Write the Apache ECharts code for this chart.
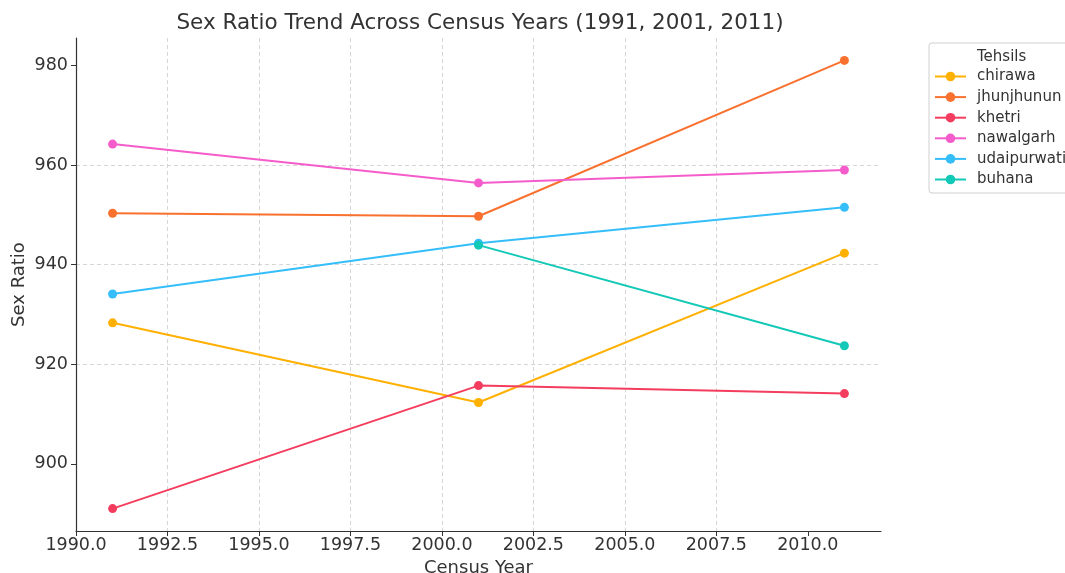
<!DOCTYPE html>
<html>
<head>
<meta charset="utf-8">
<script src="https://cdn.jsdelivr.net/npm/echarts@6/dist/echarts.min.js"></script>
<style>html,body{margin:0;padding:0;background:#fff;}#c{width:1065px;height:573px;}</style>
</head>
<body>
<div id="c"></div>
<script>
const years = [1991, 2001, 2011];
const names = ['chirawa', 'jhunjhunun', 'khetri', 'nawalgarh', 'udaipurwati', 'buhana'];
const chirawa = [928.3, 912.3, 942.3];
const jhunjhunun = [950.3, 949.7, 981.0];
const khetri = [891.0, 915.7, 914.1];
const nawalgarh = [964.2, 956.4, 959.0];
const udaipurwati = [934.1, 944.3, 951.5];
const buhana = [null, 943.9, 923.7];
const colors = ['#ffb000', '#f9712f', '#f43d5e', '#f55ccb', '#35bef9', '#12c8b6'];
const yTicks = [900, 920, 940, 960, 980];
const xTicks = [1990, 1992.5, 1995, 1997.5, 2000, 2002.5, 2005, 2007.5, 2010];

const values = [chirawa, jhunjhunun, khetri, nawalgarh, udaipurwati, buhana];
const F = 'DejaVu Sans';
const series = names.map((n, i) => ({
  name: n,
  type: 'line',
  data: years.map((y, j) => values[i][j] == null ? null : [y, values[i][j]]).filter(d => d),
  symbol: 'circle',
  symbolSize: 9,
  lineStyle: {width: 2, color: colors[i]},
  itemStyle: {color: colors[i]},
  animation: false
}));

const chart = echarts.init(document.getElementById('c'), null, {renderer: 'canvas'});
chart.setOption({
  animation: false,
  backgroundColor: '#fff',
  title: {
    text: 'Sex Ratio Trend Across Census Years (1991, 2001, 2011)',
    left: 475, top: 7, textAlign: 'center',
    textStyle: {fontFamily: F, fontSize: 21.5, fontWeight: 'normal', color: '#333'}
  },
  graphic: [{
    type: 'text', left: 977, top: 50, z: 100,
    style: {text: 'Tehsils', font: '15px "DejaVu Sans"', fill: '#333'}
  }],
  legend: {
    left: 929, top: 43, orient: 'vertical',
    padding: [26, 14, 6, 5],
    itemWidth: 31, itemHeight: 12, itemGap: 5.6,
    borderColor: '#d0d0d0', borderWidth: 1, borderRadius: 3,
    backgroundColor: '#fff',
    textStyle: {fontFamily: F, fontSize: 15, color: '#333', padding: [0, 0, 0, 6]},
    data: names
  },
  grid: {left: 76, right: 184, top: 38, bottom: 42, outerBoundsMode: 'none'},
  xAxis: {
    type: 'value', min: 1990, max: 2012, interval: 2.5,
    name: 'Census Year', nameLocation: 'middle', nameGap: 22,
    nameTextStyle: {fontFamily: F, fontSize: 18, color: '#333'},
    axisLine: {show: true, lineStyle: {color: '#333', width: 1.2}},
    axisTick: {show: true, length: 5, customValues: xTicks, lineStyle: {color: '#333'}},
    axisLabel: {fontFamily: F, fontSize: 17.5, color: '#333', margin: 5, customValues: xTicks,
      formatter: v => v.toFixed(1)},
    splitLine: {show: true, showMinLine: false, showMaxLine: false, lineStyle: {color: '#cccccc', type: [4, 3], width: 0.8}}
  },
  yAxis: {
    type: 'value', min: 886.5, max: 985.5,
    name: 'Sex Ratio', nameLocation: 'middle', nameGap: 48, nameMoveOverlap: false,
    nameTextStyle: {fontFamily: F, fontSize: 18, color: '#333'},
    axisLine: {show: true, lineStyle: {color: '#333', width: 1.2}},
    axisTick: {show: true, length: 5, customValues: yTicks, lineStyle: {color: '#333'}},
    axisLabel: {fontFamily: F, fontSize: 17.5, color: '#333', margin: 8, customValues: yTicks},
    splitLine: {show: true, showMinLine: false, showMaxLine: false, lineStyle: {color: '#cccccc', type: [4, 3], width: 0.8}}
  },
  series: series
});
</script>
</body>
</html>
